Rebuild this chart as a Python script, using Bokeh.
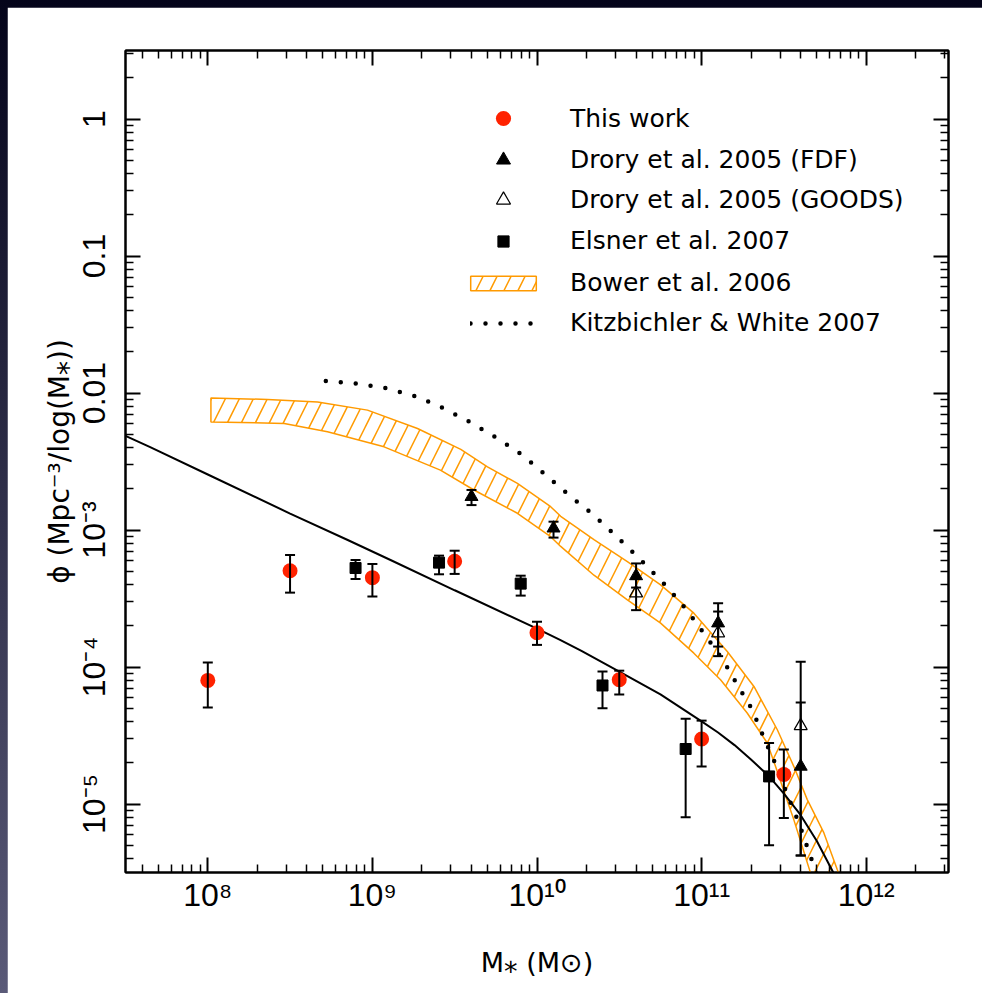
from bokeh.plotting import figure
from bokeh.models import (ColumnDataSource, Whisker, TeeHead, LogAxis, FixedTicker,
                          Range1d, Legend, LegendItem)
from bokeh.layouts import column
from bokeh.embed import file_html
from bokeh.resources import INLINE

# ---------------- data ----------------
# This work (red circles)
tw_mass = [1.0e8, 3.16e8, 1.0e9, 3.16e9, 1.0e10, 3.16e10, 1.0e11, 3.16e11]
tw_phi = [7.98e-5, 5.04e-4, 4.49e-4, 5.91e-4, 1.78e-4, 8.07e-5, 2.98e-5, 1.64e-5]
tw_hi = [1.08e-4, 6.57e-4, 5.65e-4, 7.06e-4, 2.14e-4, 9.4e-5, 4.06e-5, 2.5e-5]
tw_lo = [5.07e-5, 3.49e-4, 3.27e-4, 4.78e-4, 1.45e-4, 6.3e-5, 1.88e-5, 7.9e-6]

# Drory et al. 2005 (FDF) filled triangles
fdf_mass = [4.0e9, 1.26e10, 4.0e10, 1.26e11, 4.0e11]
fdf_phi = [1.75e-3, 1.03e-3, 4.62e-4, 2.09e-4, 1.88e-5]
fdf_hi = [1.96e-3, 1.15e-3, 5.7e-4, 2.54e-4, 5.5e-5]
fdf_lo = [1.52e-3, 8.8e-4, 3.8e-4, 1.41e-4, 4.2e-6]

# Drory et al. 2005 (GOODS) open triangles
goods_mass = [4.0e10, 1.26e11, 4.0e11]
goods_phi = [3.46e-4, 1.77e-4, 3.72e-5]
goods_hi = [4.4e-4, 2.92e-4, 1.09e-4]
goods_lo = [2.6e-4, 1.2e-4, 4.2e-6]

# Elsner et al. 2007 squares
els_mass = [7.9e8, 2.54e9, 7.96e9, 2.5e10, 8.0e10, 2.57e11]
els_phi = [5.28e-4, 5.78e-4, 4.06e-4, 7.33e-5, 2.52e-5, 1.59e-5]
els_hi = [6.04e-4, 6.5e-4, 4.64e-4, 9.27e-5, 4.19e-5, 2.79e-5]
els_lo = [4.39e-4, 4.75e-4, 3.32e-4, 5.0e-5, 8.0e-6, 5.0e-6]

# solid fit curve (log10 M, log10 phi)
fit_logm = [7.50, 7.65, 8.0, 8.5, 8.85, 9.11, 9.5, 10.0, 10.14, 10.27, 10.5, 10.75,
            11.0, 11.1, 11.2, 11.3, 11.41, 11.5, 11.6, 11.7, 11.8, 11.85]
fit_logphi = [-2.313, -2.395, -2.595, -2.88, -3.073, -3.219, -3.44, -3.72, -3.802,
              -3.882, -4.033, -4.20, -4.397, -4.478, -4.57, -4.675, -4.798, -4.925,
              -5.078, -5.27, -5.50, -5.62]

# Kitzbichler & White 2007 (dotted)
kw_logm = [8.717, 8.91, 9.092, 9.274, 9.435, 9.597, 9.76, 9.911, 10.053, 10.194,
           10.336, 10.468, 10.599, 10.66, 10.792, 10.909, 11.02, 11.126, 11.217,
           11.308, 11.383, 11.46, 11.52, 11.591, 11.651, 11.682, 11.71]
kw_logphi = [-1.912, -1.931, -1.967, -2.028, -2.113, -2.215, -2.332, -2.453, -2.599,
             -2.745, -2.883, -3.029, -3.182, -3.255, -3.418, -3.583, -3.765, -3.942,
             -4.13, -4.312, -4.531, -4.737, -4.931, -5.138, -5.345, -5.454, -5.56]

# Bower et al. 2006 band: upper and lower edges
bow_up_logm = [8.019, 8.363, 8.667, 8.970, 9.274, 9.537, 9.699, 9.881, 10.083, 10.144,
               10.346, 10.549, 10.751, 10.953, 11.156, 11.318, 11.46, 11.56, 11.642,
               11.743, 11.824, 11.85]
bow_up_logphi = [-2.036, -2.047, -2.065, -2.125, -2.259, -2.412, -2.539, -2.66, -2.83,
                 -2.90, -3.07, -3.231, -3.401, -3.607, -3.887, -4.142, -4.458, -4.725,
                 -4.968, -5.211, -5.478, -5.56]
bow_lo_logm = [8.019, 8.464, 8.727, 9.071, 9.413, 9.617, 9.881, 10.083, 10.144, 10.346,
               10.549, 10.751, 10.953, 11.115, 11.277, 11.399, 11.449, 11.49, 11.56,
               11.611, 11.658, 11.68]
bow_lo_logphi = [-2.211, -2.222, -2.283, -2.393, -2.563, -2.708, -2.878, -3.049, -3.12,
                 -3.33, -3.51, -3.68, -3.899, -4.093, -4.336, -4.555, -4.725, -4.871,
                 -5.114, -5.308, -5.49, -5.56]

x_tick_labels = {8: "10⁸", 9: "10⁹", 10: "10¹⁰", 11: "10¹¹", 12: "10¹²"}
y_tick_labels = {0: "1", -1: "0.1", -2: "0.01", -3: "10⁻³", -4: "10⁻⁴", -5: "10⁻⁵"}

x_title = "M⁎ (M⊙)"
y_title = "ϕ (Mpc⁻³/log(M⁎))"

legend_labels = ["This work", "Drory et al. 2005 (FDF)", "Drory et al. 2005 (GOODS)",
                 "Elsner et al. 2007", "Bower et al. 2006", "Kitzbichler & White 2007"]

# ---------------- styling ----------------
RED = "#ff2200"
ORANGE = "#ff9a00"
TICK_FONT = "Liberation Sans"
TEXT_FONT = "DejaVu Sans"

W, H = 975, 986
BL, BR, BT, BB = 118, 34, 43, 121
FL, FT = 7 + BL, 7 + BT            # frame left/top on the page
FW, FH = W - BL - BR, H - BT - BB  # frame size
XLO, XHI = 7.5, 12.5
YLO, YHI = -5.5, 0.5

p = figure(width=W, height=H, x_axis_type="log", y_axis_type="log",
           x_range=Range1d(10 ** XLO, 10 ** XHI), y_range=Range1d(10 ** YLO, 10 ** YHI),
           output_backend="svg", toolbar_location=None,
           min_border_left=BL, min_border_right=BR, min_border_top=BT, min_border_bottom=BB,
           background_fill_color="white", border_fill_color="white",
           outline_line_color="black", outline_line_width=2)
p.margin = (7, 0, 0, 7)
p.grid.visible = False

x_major = [10.0 ** k for k in x_tick_labels]
x_minor = [m * 10.0 ** k for k in range(7, 13) for m in range(2, 10)]
y_major = [10.0 ** k for k in y_tick_labels]
y_minor = [m * 10.0 ** k for k in range(-6, 1) for m in range(2, 10)]

p.add_layout(LogAxis(), "above")
p.add_layout(LogAxis(), "right")

for ax in p.xaxis:
    ax.ticker = FixedTicker(ticks=x_major, minor_ticks=x_minor)
for ax in p.yaxis:
    ax.ticker = FixedTicker(ticks=y_major, minor_ticks=y_minor)

for ax in p.xaxis + p.yaxis:
    ax.major_tick_in = 15
    ax.major_tick_out = 0
    ax.minor_tick_in = 8
    ax.minor_tick_out = 0
    ax.axis_line_width = 2
    ax.major_tick_line_width = 2
    ax.minor_tick_line_width = 1.5
    ax.major_label_text_font = TICK_FONT
    ax.major_label_text_font_size = "32px"
    ax.major_label_text_color = "black"
    ax.axis_label_text_font = TEXT_FONT
    ax.axis_label_text_font_style = "normal"
    ax.axis_label_text_color = "black"

bottom, top = p.below[0], p.above[0]
left, right = p.left[0], p.right[0]
bottom.major_label_overrides = {10.0 ** k: v for k, v in x_tick_labels.items()}
bottom.major_label_standoff = 4
bottom.axis_label = x_title
bottom.axis_label_text_font_size = "27px"
bottom.axis_label_standoff = 31
left.major_label_overrides = {10.0 ** k: v for k, v in y_tick_labels.items()}
left.major_label_orientation = "vertical"
left.major_label_standoff = 14
left.axis_label = y_title
left.axis_label_text_font_size = "28px"
left.axis_label_standoff = -3
for ax in (top, right):
    ax.major_label_text_color = None
    ax.major_label_text_font_size = "2px"
    ax.major_label_standoff = 0

# ---------------- glyphs ----------------
band_x = [10 ** v for v in bow_up_logm] + [10 ** v for v in reversed(bow_lo_logm)]
band_y = [10 ** v for v in bow_up_logphi] + [10 ** v for v in reversed(bow_lo_logphi)]
r_band = p.patch(band_x, band_y, fill_alpha=0, line_color=ORANGE, line_width=1.5,
                 hatch_pattern="/", hatch_color=ORANGE, hatch_scale=28, hatch_weight=1.5)

p.line([10 ** v for v in fit_logm], [10 ** v for v in fit_logphi],
       line_color="black", line_width=2)
r_kw = p.line([10 ** v for v in kw_logm], [10 ** v for v in kw_logphi],
              line_color="black", line_width=4.5, line_dash="0 15", line_cap="round")


def errbars(mass, hi, lo):
    src = ColumnDataSource(dict(x=mass, hi=hi, lo=lo))
    w = Whisker(base="x", upper="hi", lower="lo", source=src, level="glyph",
                line_width=2, line_color="black",
                upper_head=TeeHead(size=10, line_width=2, line_color="black"),
                lower_head=TeeHead(size=10, line_width=2, line_color="black"))
    p.add_layout(w)


errbars(els_mass, els_hi, els_lo)
errbars(goods_mass, goods_hi, goods_lo)
errbars(fdf_mass, fdf_hi, fdf_lo)
errbars(tw_mass, tw_hi, tw_lo)

r_els = p.scatter(els_mass, els_phi, marker="square", size=11,
                  fill_color="black", line_color="black")
r_goods = p.scatter(goods_mass, goods_phi, marker="triangle", size=13,
                    fill_color=None, line_color="black", line_width=1.2)
r_fdf = p.scatter(fdf_mass, fdf_phi, marker="triangle", size=13,
                  fill_color="black", line_color="black")
r_tw = p.scatter(tw_mass, tw_phi, marker="circle", size=15,
                 fill_color=RED, line_color=None)

# ---------------- legend (one block per row) ----------------
FB = FT + FH  # frame bottom on page


def add_leg(renderer, label, yc, left_px, gw, gh):
    leg = Legend(items=[LegendItem(label=label, renderers=[renderer])],
                 location=(left_px - FL, FB - (yc + gh / 2)),
                 glyph_width=gw, glyph_height=gh, padding=0, margin=0, spacing=0,
                 label_standoff=570 - (left_px + gw), label_height=gh,
                 label_text_font=TEXT_FONT, label_text_font_size="25px",
                 label_text_color="black",
                 border_line_color=None, background_fill_alpha=0)
    p.add_layout(leg)


add_leg(r_tw, legend_labels[0], 118, 470, 66, 38)
add_leg(r_fdf, legend_labels[1], 159, 470, 66, 35)
add_leg(r_goods, legend_labels[2], 199, 470, 66, 35)
add_leg(r_els, legend_labels[3], 241, 470, 66, 28)
add_leg(r_band, legend_labels[4], 288, 462, 82, 18)
add_leg(r_kw, legend_labels[5], 328, 470, 63, 18)

page = column(p, width=982, height=993,
              styles={"background": "linear-gradient(to bottom, #04041a, #5a5a78)"})

open("out.html", "w").write(file_html(page, INLINE))
